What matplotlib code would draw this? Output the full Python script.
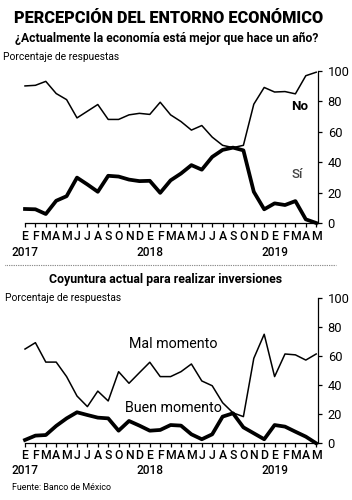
import matplotlib
matplotlib.use("Agg")
import matplotlib.pyplot as plt
from matplotlib.lines import Line2D

plt.rcParams['font.family'] = ['Roboto', 'DejaVu Sans']

months = ["E", "F", "M", "A", "M", "J", "J", "A", "S", "O", "N", "D",
          "E", "F", "M", "A", "M", "J", "J", "A", "S", "O", "N", "D",
          "E", "F", "M", "A", "M"]
years = ["2017", "2018", "2019"]
year_idx = [0, 12, 24]

no_vals = [90, 90.4, 93, 85, 81, 69, 73.4, 77.8, 68, 68, 71, 72,
           71.3, 79.3, 71, 66.6, 61, 64, 56.4, 51, 49.5, 51, 78, 89,
           86, 86.3, 84.8, 96.7, 99]
si_vals = [9.2, 9, 5.9, 14.6, 17.6, 29.8, 25.3, 20.5, 31, 30.5, 28.5, 27.5,
           27.7, 19.8, 28, 32.5, 38, 35, 43.4, 48, 49.5, 47.7, 20.5, 9,
           12.9, 11.8, 14.4, 2.4, 0]
mal_vals = [65, 69.4, 56, 56, 46, 32.6, 25.3, 36, 29.2, 49.4, 41.4, 48.7,
            55.9, 46, 46, 49.4, 54.7, 43, 39.7, 28, 21, 18.4, 58.6, 75.2,
            46, 61.6, 61, 57.4, 61.6]
buen_vals = [2.3, 5.3, 5.7, 12, 17.2, 21.4, 19.5, 17.7, 17.2, 8.7, 15.4, 12.2,
             8.7, 9.2, 12.6, 12.2, 6.2, 2.8, 6.2, 18.4, 20.7, 11, 6.9, 2.8,
             12.6, 11.5, 8, 4.6, 0]
yticks = [0, 20, 40, 60, 80, 100]

W, H = 352, 500
fig = plt.figure(figsize=(W / 100, H / 100), dpi=100)


def px(x, y):
    return x / W, 1 - y / H


x_left, x_right = 25, 318
step = (316.2 - 25) / 28
xmax = (x_right - x_left) / step


def make_axes(y0, y100):
    ax = fig.add_axes([x_left / W, (H - y0) / H, (x_right - x_left) / W, (y0 - y100) / H])
    ax.set_xlim(0, xmax)
    ax.set_ylim(0, 100)
    ax.patch.set_alpha(0)
    for s in ["top", "left"]:
        ax.spines[s].set_visible(False)
    ax.spines["bottom"].set_linewidth(0.9)
    ax.spines["right"].set_linewidth(0.9)
    ax.yaxis.tick_right()
    ax.set_yticks(yticks)
    ax.set_yticklabels([str(v) for v in yticks], fontsize=9.3)
    ax.tick_params(axis="y", length=3, width=0.9, pad=4, direction="out")
    ax.set_xticks(range(len(months)))
    ax.set_xticklabels([])
    ax.tick_params(axis="x", length=3, width=0.9, direction="out")
    ax.set_clip_on(False)
    return ax


def month_labels(y_m, y_y):
    for i, m in enumerate(months):
        fig.text(*px(x_left + i * step, y_m), m, ha="center", va="center",
                 fontsize=8.8, fontweight="medium")
    for yi, yr in zip(year_idx, years):
        fig.text(*px(x_left + yi * step, y_y), yr, ha="center", va="center",
                 fontsize=8.6, fontweight="medium")


xs = list(range(len(months)))

# Top chart
ax1 = make_axes(223, 70.7)
ax1.plot(xs, no_vals, color="black", lw=1.1, clip_on=False)
ax1.plot(xs, si_vals, color="black", lw=2.7, solid_joinstyle="round", clip_on=False)
month_labels(237, 252.5)
fig.text(*px(300, 107), "No", ha="center", va="center", fontsize=9.5, fontweight="bold")
fig.text(*px(297, 175), "Sí", ha="center", va="center", fontsize=9.5,
         fontweight="medium", color="#444444")

# Bottom chart
ax2 = make_axes(443.3, 298.3)
ax2.plot(xs, mal_vals, color="black", lw=1.1, clip_on=False)
ax2.plot(xs, buen_vals, color="black", lw=2.7, solid_joinstyle="round", clip_on=False)
month_labels(455.5, 470)
fig.text(*px(173, 344), "Mal momento", ha="center", va="center", fontsize=10.3)
fig.text(*px(173, 408.5), "Buen momento", ha="center", va="center", fontsize=10.3)

# Titles
fig.text(*px(168.5, 18), "PERCEPCIÓN DEL ENTORNO ECONÓMICO", ha="center", va="center",
         fontsize=11.7, fontweight="black")
fig.text(*px(166.5, 38), "¿Actualmente la economía está mejor que hace un año?", ha="center",
         va="center", fontsize=8.7, fontweight="bold")
fig.text(*px(3, 57), "Porcentaje de respuestas", ha="left", va="center", fontsize=7.4)
fig.text(*px(166, 280), "Coyuntura actual para realizar inversiones", ha="center",
         va="center", fontsize=8.9, fontweight="bold")
fig.text(*px(5, 298), "Porcentaje de respuestas", ha="left", va="center", fontsize=7.4)
fig.text(*px(12, 488), "Fuente: Banco de México", ha="left", va="center", fontsize=6.4)

# Dotted separator
fig.add_artist(Line2D([5 / W, 336 / W], [1 - 265 / H, 1 - 265 / H], transform=fig.transFigure,
                      color="#555555", lw=0.8, linestyle=(0, (0.6, 1.0))))

fig.savefig("out.png", dpi=100)
